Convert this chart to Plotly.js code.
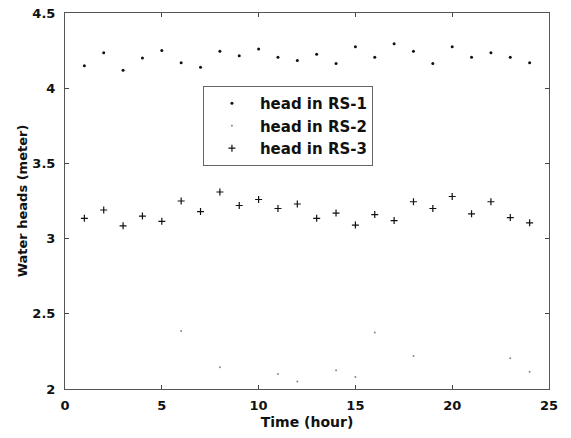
<!DOCTYPE html>
<html>
<head>
<meta charset="utf-8">
<script src="https://cdn.plot.ly/plotly-3.0.1.min.js"></script>
<style>html,body{margin:0;padding:0;background:#fff;}#chart{width:571px;height:438px;}</style>
</head>
<body>
<div id="chart"></div>
<script>
// Time (hour)
var hours = [1,2,3,4,5,6,7,8,9,10,11,12,13,14,15,16,17,18,19,20,21,22,23,24];
// head in RS-1 (m)
var headRS1 = [4.15,4.235,4.12,4.20,4.25,4.17,4.14,4.245,4.215,4.26,4.205,4.185,4.225,4.165,4.275,4.205,4.295,4.245,4.165,4.275,4.205,4.235,4.205,4.17];
// head in RS-3 (m)
var headRS3 = [3.135,3.19,3.085,3.15,3.115,3.25,3.18,3.31,3.22,3.26,3.20,3.23,3.135,3.17,3.09,3.16,3.12,3.245,3.20,3.28,3.165,3.245,3.14,3.105];
// head in RS-2 (m): only the points that are visible inside the axis range
var hoursRS2 = [6,8,11,12,14,15,16,18,23,24];
var headRS2 = [2.385,2.145,2.10,2.05,2.125,2.08,2.375,2.22,2.205,2.115];

var seriesNames = ['head in RS-1','head in RS-2','head in RS-3'];
var xTicks = [0,5,10,15,20,25];
var yTicks = [2,2.5,3,3.5,4,4.5];
var yTickText = ['2','2.5','3','3.5','4','4.5'];

var fontFam = 'DejaVu Sans, Arial, sans-serif';

var traces = [
  {x: hours, y: headRS1, name: seriesNames[0], type: 'scatter', mode: 'markers',
   marker: {symbol: 'circle', size: 3, color: '#111'}},
  {x: hoursRS2, y: headRS2, name: seriesNames[1], type: 'scatter', mode: 'markers',
   marker: {symbol: 'circle', size: 2, color: '#888'}},
  {x: hours, y: headRS3, name: seriesNames[2], type: 'scatter', mode: 'markers',
   marker: {symbol: 'cross-thin-open', size: 5, color: '#111', line: {width: 1.2, color: '#111'}}}
];

var layout = {
  width: 571, height: 438,
  margin: {l: 65, r: 22, t: 13, b: 49},
  paper_bgcolor: '#fff', plot_bgcolor: '#fff',
  showlegend: true,
  legend: {x: 0.285, y: 0.806, xanchor: 'left', yanchor: 'top',
    bgcolor: 'rgba(255,255,255,0)', bordercolor: '#666', borderwidth: 1,
    font: {family: fontFam, size: 15, color: '#111', weight: 'bold'},
    itemwidth: 46, tracegroupgap: 0},
  xaxis: {range: [0,25], tickvals: xTicks, ticks: 'inside', ticklen: 4, tickcolor: '#444',
    showgrid: false, zeroline: false, showline: true, linecolor: '#555', linewidth: 1, mirror: 'ticks',
    ticklabelstandoff: 4,
    tickfont: {family: fontFam, size: 13, color: '#111', weight: 'bold'},
    title: {text: 'Time (hour)', font: {family: fontFam, size: 14, color: '#111', weight: 'bold'}, standoff: 5}},
  yaxis: {range: [2,4.5], tickvals: yTicks, ticktext: yTickText, ticks: 'inside', ticklen: 4, tickcolor: '#444',
    showgrid: false, zeroline: false, showline: true, linecolor: '#555', linewidth: 1, mirror: 'ticks',
    ticklabelstandoff: 6,
    tickfont: {family: fontFam, size: 13, color: '#111', weight: 'bold'},
    title: {text: 'Water heads (meter)', font: {family: fontFam, size: 13, color: '#111', weight: 'bold'}, standoff: 1}}
};

Plotly.newPlot('chart', traces, layout, {displayModeBar: false, staticPlot: true});
</script>
</body>
</html>
